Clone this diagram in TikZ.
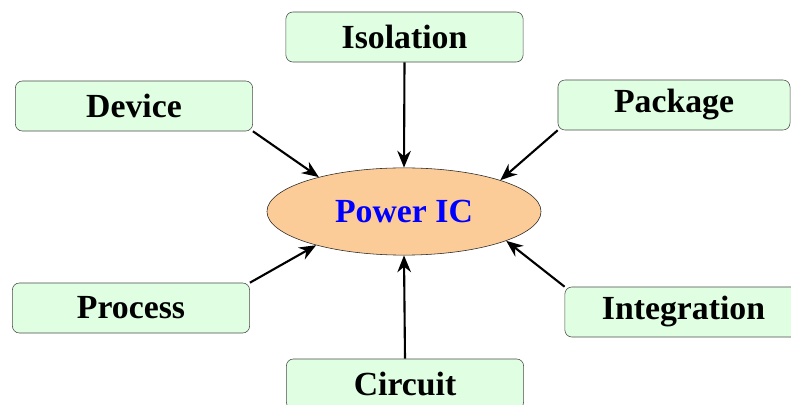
\documentclass[tikz,border=0pt]{standalone}
\usepackage{fontspec}
\setmainfont{Liberation Serif}
\usepackage{xcolor}
\usetikzlibrary{shapes.geometric, arrows.meta}

\definecolor{boxgreen}{RGB}{224,255,226}
\definecolor{peach}{RGB}{252,204,152}

\begin{document}
\begin{tikzpicture}[
    x=0.025cm, y=-0.025cm,
    font=\fontsize{24}{28}\selectfont\bfseries,
    factor/.style={rectangle, draw=black!70, fill=boxgreen, rounded corners=5pt, minimum width=5.93cm, minimum height=1.25cm, inner sep=0pt},
    core/.style={ellipse, draw=black!85, fill=peach, minimum width=6.85cm, minimum height=2.18cm, inner sep=0pt, text=blue},
    arr/.style={-{Stealth[length=4.2mm, width=3.4mm]}, line width=1.5pt}
]

\useasboundingbox (0,0) rectangle (791,405);
\clip (0,0) rectangle (791,405);

% Centre
\node[core] (ic) at (404,211.5) {Power IC};

% Factors
\node[factor] (iso) at (404.5,37) {Isolation};
\node[factor] (dev) at (134,106) {Device};
\node[factor, minimum width=5.8cm] (pkg) at (674,105) {Package};
\node[factor] (proc) at (131,308) {Process};
\node[factor] (integ) at (683.5,312) {Integration};
\node[factor] (circ) at (405,384) {Circuit};

% Arrows
\draw[arr] (iso.south) -- (ic.north);
\draw[arr] (dev.south east) -- (ic.158);
\draw[arr] (pkg.south west) -- (ic.18);
\draw[arr] (proc.north east) -- (ic.201);
\draw[arr] (integ.north west) -- (ic.344);
\draw[arr] (circ.north) -- (ic.south);

\end{tikzpicture}
\end{document}
